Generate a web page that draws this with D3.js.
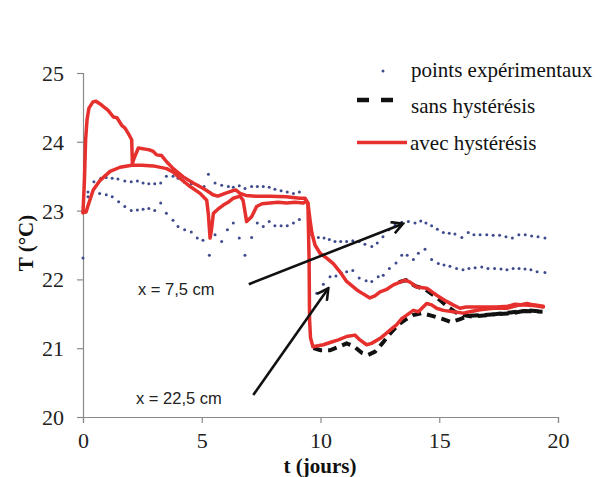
<!DOCTYPE html>
<html>
<head>
<meta charset="utf-8">
<script src="https://cdn.jsdelivr.net/npm/d3@7/dist/d3.min.js"></script>
<style>
  html, body { margin: 0; padding: 0; background: #fff; }
  svg { display: block; }
  .tick-label { font-family: "Liberation Serif", "Times New Roman", serif; font-size: 22px; fill: #222; }
  .axis-title { font-family: "Liberation Serif", "Times New Roman", serif; font-size: 21px; font-weight: bold; fill: #111; }
  .legend-text { font-family: "Liberation Serif", "Times New Roman", serif; font-size: 21px; fill: #111; }
  .note { font-family: "Liberation Sans", Arial, sans-serif; font-size: 16.5px; fill: #222; }
</style>
</head>
<body>
<svg id="chart" width="608" height="477"></svg>
<script>
// Temperature T (°C) versus time t (days): measured points and two models.

const xTicks = [0, 5, 10, 15, 20];
const yTicks = [20, 21, 22, 23, 24, 25];

const legendLabels = ["points expérimentaux", "sans hystérésis", "avec hystérésis"];
const noteLabels = ["x = 7,5 cm", "x = 22,5 cm"];

// Measured temperatures, upper sensor series [t, T]
const measuredUpper = [
  [0,22.31],[0.21,23.27],[0.46,23.42],[0.75,23.47],[0.98,23.48],[1.23,23.47],[1.47,23.46],[1.76,23.43],
  [2.03,23.42],[2.29,23.43],[2.53,23.40],[2.77,23.39],[3.02,23.39],[3.27,23.40],[3.51,23.50],[3.79,23.50],
  [4.00,23.47],[4.28,23.41],[4.56,23.39],[4.84,23.37],[5.10,23.35],[5.28,23.53],[5.56,23.40],[5.84,23.37],
  [6.12,23.35],[6.33,23.34],[6.58,23.36],[6.82,23.32],[7.10,23.35],[7.34,23.35],[7.59,23.35],[7.84,23.34],
  [8.08,23.31],[8.34,23.29],[8.60,23.27],[8.86,23.25],[9.11,23.27],
  [9.63,22.65],[9.91,22.61],[10.15,22.60],[10.37,22.58],[10.61,22.55],[10.85,22.55],[11.10,22.55],[11.36,22.56],
  [11.63,22.55],[11.87,22.51],[12.16,22.48],[12.39,22.53],[12.63,22.62],[12.88,22.72],[13.14,22.79],[13.42,22.83],
  [13.70,22.84],[13.98,22.82],[14.22,22.85],[14.44,22.82],[14.68,22.78],[14.92,22.73],[15.17,22.68],[15.42,22.67],
  [15.66,22.66],[15.95,22.61],[16.22,22.68],[16.46,22.65],[16.72,22.65],[17.00,22.65],[17.27,22.64],[17.54,22.64],
  [17.81,22.62],[18.08,22.60],[18.35,22.65],[18.62,22.65],[18.89,22.63],[19.16,22.62],[19.45,22.60]
];

// Measured temperatures, lower sensor series [t, T]
const measuredLower = [
  [0.21,23.20],[0.70,23.25],[0.98,23.23],[1.23,23.20],[1.50,23.13],[1.76,23.06],[2.03,23.00],[2.29,23.01],
  [2.53,23.02],[2.77,23.03],[3.02,23.00],[3.27,23.11],[3.51,22.96],[3.79,22.86],[4.00,22.77],[4.28,22.72],
  [4.56,22.69],[4.81,22.60],[5.05,22.57],[5.32,22.35],[5.56,22.65],[5.84,22.55],[6.08,22.72],[6.33,22.82],
  [6.58,22.60],[6.82,22.35],[7.10,22.61],[7.34,22.82],[7.59,22.77],[7.84,22.84],[8.08,22.78],[8.34,22.78],
  [8.60,22.78],[8.86,22.82],[9.11,22.87],
  [9.84,21.80],[10.12,21.93],[10.40,22.04],[10.65,22.05],[10.88,22.09],[11.10,22.11],[11.36,22.13],[11.63,22.02],
  [11.92,21.98],[12.16,21.97],[12.43,22.04],[12.64,22.06],[12.90,22.16],[13.18,22.24],[13.42,22.35],[13.65,22.35],
  [13.91,22.29],[14.12,22.38],[14.40,22.44],[14.68,22.29],[14.96,22.23],[15.20,22.21],[15.45,22.19],[15.73,22.16],
  [16.00,22.14],[16.25,22.16],[16.51,22.17],[16.79,22.18],[17.05,22.16],[17.33,22.16],[17.60,22.15],[17.85,22.14],
  [18.11,22.16],[18.36,22.16],[18.61,22.15],[18.86,22.14],[19.12,22.11],[19.45,22.10]
];

// Model with hysteresis, x = 7,5 cm [t, T]
const hystNear = [
  [0,22.97],[0.06,23.44],[0.11,24.03],[0.17,24.32],[0.25,24.49],[0.42,24.58],[0.55,24.59],[0.72,24.55],
  [0.86,24.51],[1.05,24.46],[1.28,24.36],[1.43,24.35],[1.63,24.24],[1.77,24.20],[1.91,24.12],[2.05,24.03],
  [2.08,23.68],[2.15,23.76],[2.33,23.91],[2.68,23.89],[2.82,23.88],[2.96,23.86],[3.10,23.81],[3.31,23.80],
  [3.52,23.71],[3.80,23.61],[4.22,23.49],[4.64,23.40],[5.07,23.32],[5.35,23.26],[5.47,23.23],[5.68,23.21],
  [5.98,23.25],[6.32,23.29],[6.44,23.30],[6.61,23.25],[6.86,23.22],[7.28,23.21],[7.87,23.21],[8.55,23.20],
  [9.14,23.18],[9.35,23.18],[9.47,23.11],[9.56,22.86],[9.64,22.67],[9.77,22.50],[9.98,22.38],[10.26,22.31],
  [10.54,22.23],[10.82,22.11],[11.10,21.97],[11.52,21.85],[11.79,21.79],[12.08,21.73],[12.29,21.76],[12.51,21.82],
  [12.76,21.85],[13.07,21.92],[13.35,21.96],[13.56,21.99],[13.77,21.96],[14.05,21.89],[14.47,21.87],[14.65,21.83],
  [14.89,21.77],[15.31,21.68],[15.58,21.63],[15.87,21.58],[16.13,21.60],[16.43,21.60],[16.93,21.60],[17.42,21.60],
  [17.89,21.61],[18.19,21.64],[18.40,21.63],[18.69,21.65],[18.96,21.63],[19.38,21.61]
];

// Model with hysteresis, x = 22,5 cm [t, T]
const hystFar = [
  [0,22.97],[0.13,22.98],[0.22,23.08],[0.43,23.30],[0.72,23.44],[1.14,23.57],[1.56,23.63],[2.05,23.66],
  [2.48,23.66],[2.96,23.65],[3.52,23.61],[3.79,23.56],[4.08,23.47],[4.51,23.35],[4.93,23.25],[5.21,23.15],
  [5.28,22.94],[5.35,22.60],[5.41,22.72],[5.49,22.96],[5.68,23.02],[5.91,23.08],[6.11,23.12],[6.33,23.18],
  [6.61,23.21],[6.74,23.15],[6.89,22.84],[7.10,22.91],[7.31,23.06],[7.54,23.10],[7.87,23.11],[8.21,23.12],
  [8.58,23.11],[8.93,23.12],[9.28,23.11],[9.39,23.14],[9.47,23.11],[9.52,22.28],[9.54,21.41],[9.58,21.15],
  [9.68,21.02],[10.12,21.05],[10.47,21.09],[10.75,21.12],[11.10,21.17],[11.45,21.19],[11.66,21.12],[11.94,21.05],
  [12.15,21.07],[12.50,21.14],[12.78,21.22],[12.99,21.28],[13.20,21.34],[13.42,21.43],[13.63,21.48],[13.91,21.55],
  [14.12,21.53],[14.47,21.65],[14.68,21.63],[14.89,21.58],[15.17,21.55],[15.59,21.53],[16.01,21.51],[16.29,21.53],
  [16.72,21.56],[17.28,21.58],[17.84,21.58],[18.40,21.63],[18.96,21.62],[19.38,21.60]
];

// Model without hysteresis (only where it departs from the other model)
const noHystNear = [
  [13.30,21.96],[13.60,21.99],[14.00,21.90],[14.40,21.86],[14.80,21.76],[15.10,21.68],[15.40,21.59],[15.70,21.52],
  [16.00,21.48],[16.40,21.46],[17.00,21.48],[17.50,21.50],[18.00,21.52],[18.60,21.54],[19.35,21.53]
];
const noHystFar = [
  [9.70,21.00],[10.00,20.97],[10.40,20.97],[10.70,21.01],[11.10,21.07],[11.40,21.03],[11.75,20.93],[12.00,20.90],
  [12.30,20.95],[12.60,21.07],[12.95,21.22],[13.30,21.35],[13.55,21.41],[13.90,21.48],[14.25,21.51],[14.70,21.47],
  [15.10,21.43],[15.50,21.38],[15.85,21.42],[16.25,21.47],[16.70,21.48],[17.20,21.49],[17.70,21.50],[18.10,21.51],
  [18.70,21.55],[19.35,21.53]
];

const RED = "#e5302d";
const DOT = "#3e4b8c";
const AXIS = "#8a8a8a";

const svg = d3.select("#chart");

const x = d3.scaleLinear().domain([0, 20]).range([83, 558]);
const y = d3.scaleLinear().domain([20, 25]).range([417, 73]);

// Axes
const xAxis = d3.axisBottom(x).tickValues(xTicks).tickSize(6).tickPadding(9).tickFormat(d3.format("d"));
const yAxis = d3.axisLeft(y).tickValues(yTicks).tickSize(6).tickPadding(13).tickFormat(d3.format("d"));

const gx = svg.append("g").attr("transform", `translate(0,${y(20)})`).call(xAxis);
const gy = svg.append("g").attr("transform", `translate(${x(0)},0)`).call(yAxis);

[gx, gy].forEach(g => {
  g.attr("font-family", null).attr("font-size", null);
  g.select(".domain").attr("stroke", AXIS).attr("stroke-width", 1.2);
  g.selectAll(".tick line").attr("stroke", AXIS).attr("stroke-width", 1.2);
  g.selectAll(".tick text").attr("class", "tick-label").attr("fill", "#222");
});
gx.selectAll(".tick text").attr("dy", "0.72em");
gy.selectAll(".tick text").attr("dy", "0.34em");

// Axis titles
svg.append("text").attr("class", "axis-title")
  .attr("transform", `translate(33,${243}) rotate(-90)`)
  .attr("text-anchor", "middle").text("T (°C)");
svg.append("text").attr("class", "axis-title")
  .attr("x", 320).attr("y", 473).attr("text-anchor", "middle").text("t (jours)");

// Measured points
const dots = svg.append("g");
[measuredUpper, measuredLower].forEach(series => {
  dots.selectAll(null).data(series).join("circle")
    .attr("cx", d => x(d[0])).attr("cy", d => y(d[1]))
    .attr("r", 1.5).attr("fill", DOT);
});

const line = d3.line().x(d => x(d[0])).y(d => y(d[1]));

// Models without hysteresis (dashed, black)
[noHystNear, noHystFar].forEach(series => {
  svg.append("path").datum(series)
    .attr("d", line).attr("fill", "none")
    .attr("stroke", "#111").attr("stroke-width", 4)
    .attr("stroke-dasharray", "9,6");
});

// Models with hysteresis (red)
[hystNear, hystFar].forEach(series => {
  svg.append("path").datum(series)
    .attr("d", line).attr("fill", "none")
    .attr("stroke", RED).attr("stroke-width", 3.5)
    .attr("stroke-linejoin", "round").attr("stroke-linecap", "round");
});

// Annotations with arrows
const defs = svg.append("defs");
defs.append("marker").attr("id", "head")
  .attr("viewBox", "0 0 14 14").attr("refX", 12).attr("refY", 7)
  .attr("markerWidth", 14).attr("markerHeight", 14)
  .attr("markerUnits", "userSpaceOnUse").attr("orient", "auto")
  .append("path").attr("d", "M1,1 L12,7 L1,13")
  .attr("fill", "none").attr("stroke", "#111").attr("stroke-width", 2.6)
  .attr("stroke-linejoin", "miter");

const arrows = [
  { from: [6.98, 21.93], to: [13.47, 22.81] },
  { from: [7.17, 20.32], to: [10.33, 21.87] }
];
arrows.forEach(a => {
  svg.append("line")
    .attr("x1", x(a.from[0])).attr("y1", y(a.from[1]))
    .attr("x2", x(a.to[0])).attr("y2", y(a.to[1]))
    .attr("stroke", "#111").attr("stroke-width", 2.6)
    .attr("marker-end", "url(#head)");
});

svg.append("text").attr("class", "note").attr("x", 138).attr("y", 295).text(noteLabels[0]);
svg.append("text").attr("class", "note").attr("x", 136).attr("y", 404).text(noteLabels[1]);

// Legend
const lg = svg.append("g");
lg.append("circle").attr("cx", 383).attr("cy", 71).attr("r", 1.5).attr("fill", DOT);
lg.append("line").attr("x1", 357).attr("x2", 397).attr("y1", 100).attr("y2", 100)
  .attr("stroke", "#111").attr("stroke-width", 4.5).attr("stroke-dasharray", "12,12");
lg.append("line").attr("x1", 357).attr("x2", 407).attr("y1", 142.5).attr("y2", 142.5)
  .attr("stroke", RED).attr("stroke-width", 3.5);
lg.append("text").attr("class", "legend-text").attr("x", 411).attr("y", 77).text(legendLabels[0]);
lg.append("text").attr("class", "legend-text").attr("x", 411).attr("y", 113).text(legendLabels[1]);
lg.append("text").attr("class", "legend-text").attr("x", 410).attr("y", 150).text(legendLabels[2]);
</script>
</body>
</html>
